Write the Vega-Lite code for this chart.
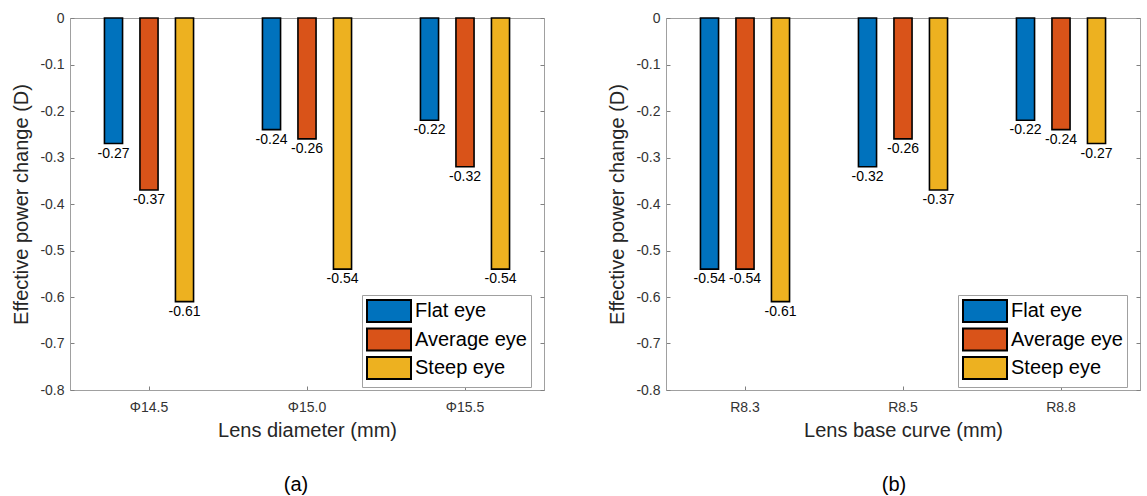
{
  "$schema": "https://vega.github.io/schema/vega-lite/v6.json",
  "padding": {"left": 11, "top": 10, "right": 5, "bottom": 5},
  "spacing": 122,
  "bounds": "flush",
  "resolve": {"scale": {"color": "independent"}, "legend": {"color": "independent"}},
  "config": {
    "font": "Liberation Sans",
    "view": {"stroke": "#a0a0a0", "strokeWidth": 1},
    "axis": {"labelFont": "Liberation Sans", "labelFontSize": 14, "labelColor": "#333333", "titleFont": "Liberation Sans", "titleFontSize": 20, "titleFontWeight": "normal", "titleColor": "#262626", "domainColor": "#a0a0a0", "tickColor": "#808080", "grid": false},
    "legend": {"orient": "none", "legendX": 292, "legendY": 277, "title": null, "symbolType": "M-1,-1H3V1H-1Z", "symbolSize": 484, "symbolStrokeColor": "black", "symbolStrokeWidth": 2, "symbolOpacity": 1, "labelFont": "Liberation Sans", "labelFontSize": 20, "labelColor": "black", "labelOffset": 25, "rowPadding": -1.5, "padding": 4, "strokeColor": "#a0a0a0", "fillColor": "white", "cornerRadius": 0, "labelLimit": 300},
    "locale": {"number": {"decimal": ".", "thousands": ",", "grouping": [3], "currency": ["$", ""], "minus": "-"}}
  },
  "hconcat": [
    {
      "width": 474, "height": 372,
      "title": {"text": "(a)", "orient": "bottom", "fontSize": 20, "fontWeight": "normal", "font": "Liberation Sans", "color": "black", "offset": 35, "dx": -11},
      "data": {"values": [
        {"group": "Φ14.5", "eye": "Flat eye", "value": -0.27},
        {"group": "Φ14.5", "eye": "Average eye", "value": -0.37},
        {"group": "Φ14.5", "eye": "Steep eye", "value": -0.61},
        {"group": "Φ15.0", "eye": "Flat eye", "value": -0.24},
        {"group": "Φ15.0", "eye": "Average eye", "value": -0.26},
        {"group": "Φ15.0", "eye": "Steep eye", "value": -0.54},
        {"group": "Φ15.5", "eye": "Flat eye", "value": -0.22},
        {"group": "Φ15.5", "eye": "Average eye", "value": -0.32},
        {"group": "Φ15.5", "eye": "Steep eye", "value": -0.54}
      ]},
      "encoding": {
        "x": {"field": "group", "type": "nominal", "sort": ["Φ14.5", "Φ15.0", "Φ15.5"], "scale": {"paddingInner": 0.326, "paddingOuter": 0.163}, "axis": {"title": "Lens diameter (mm)", "labelAngle": 0, "tickSize": -4, "labelPadding": 14, "titlePadding": 6, "domain": true}},
        "xOffset": {"field": "eye", "type": "nominal", "sort": ["Flat eye", "Average eye", "Steep eye"], "scale": {"paddingInner": 0.49, "paddingOuter": 0.245}}
      },
      "layer": [
        {
          "mark": {"type": "bar", "stroke": "black", "strokeWidth": 1.6},
          "encoding": {
            "y": {"field": "value", "type": "quantitative", "scale": {"domain": [-0.8, 0], "nice": false}, "axis": {"orient": "left", "title": "Effective power change (D)", "values": [0, -0.1, -0.2, -0.3, -0.4, -0.5, -0.6, -0.7, -0.8], "format": ".1~f", "tickSize": -4, "labelPadding": 10, "titlePadding": 8}},
            "color": {"field": "eye", "type": "nominal", "sort": ["Flat eye", "Average eye", "Steep eye"], "scale": {"domain": ["Flat eye", "Average eye", "Steep eye"], "range": ["#0072BD", "#D95319", "#EDB120"]}}
          }
        },
        {
          "mark": {"type": "text", "baseline": "top", "dy": 3, "fontSize": 14, "font": "Liberation Sans", "color": "black"},
          "encoding": {
            "y": {"field": "value", "type": "quantitative", "axis": {"orient": "right", "title": null, "labels": false, "values": [0, -0.1, -0.2, -0.3, -0.4, -0.5, -0.6, -0.7, -0.8], "tickSize": -4, "domain": false}},
            "text": {"field": "value", "type": "quantitative", "format": ".2f"}
          }
        }
      ],
      "resolve": {"axis": {"y": "independent"}}
    },
    {
      "width": 474, "height": 372,
      "title": {"text": "(b)", "orient": "bottom", "fontSize": 20, "fontWeight": "normal", "font": "Liberation Sans", "color": "black", "offset": 35, "dx": -9},
      "data": {"values": [
        {"group": "R8.3", "eye": "Flat eye", "value": -0.54},
        {"group": "R8.3", "eye": "Average eye", "value": -0.54},
        {"group": "R8.3", "eye": "Steep eye", "value": -0.61},
        {"group": "R8.5", "eye": "Flat eye", "value": -0.32},
        {"group": "R8.5", "eye": "Average eye", "value": -0.26},
        {"group": "R8.5", "eye": "Steep eye", "value": -0.37},
        {"group": "R8.8", "eye": "Flat eye", "value": -0.22},
        {"group": "R8.8", "eye": "Average eye", "value": -0.24},
        {"group": "R8.8", "eye": "Steep eye", "value": -0.27}
      ]},
      "encoding": {
        "x": {"field": "group", "type": "nominal", "sort": ["R8.3", "R8.5", "R8.8"], "scale": {"paddingInner": 0.326, "paddingOuter": 0.163}, "axis": {"title": "Lens base curve (mm)", "labelAngle": 0, "tickSize": -4, "labelPadding": 14, "titlePadding": 6, "domain": true}},
        "xOffset": {"field": "eye", "type": "nominal", "sort": ["Flat eye", "Average eye", "Steep eye"], "scale": {"paddingInner": 0.49, "paddingOuter": 0.245}}
      },
      "layer": [
        {
          "mark": {"type": "bar", "stroke": "black", "strokeWidth": 1.6},
          "encoding": {
            "y": {"field": "value", "type": "quantitative", "scale": {"domain": [-0.8, 0], "nice": false}, "axis": {"orient": "left", "title": "Effective power change (D)", "values": [0, -0.1, -0.2, -0.3, -0.4, -0.5, -0.6, -0.7, -0.8], "format": ".1~f", "tickSize": -4, "labelPadding": 10, "titlePadding": 8}},
            "color": {"field": "eye", "type": "nominal", "sort": ["Flat eye", "Average eye", "Steep eye"], "scale": {"domain": ["Flat eye", "Average eye", "Steep eye"], "range": ["#0072BD", "#D95319", "#EDB120"]}}
          }
        },
        {
          "mark": {"type": "text", "baseline": "top", "dy": 3, "fontSize": 14, "font": "Liberation Sans", "color": "black"},
          "encoding": {
            "y": {"field": "value", "type": "quantitative", "axis": {"orient": "right", "title": null, "labels": false, "values": [0, -0.1, -0.2, -0.3, -0.4, -0.5, -0.6, -0.7, -0.8], "tickSize": -4, "domain": false}},
            "text": {"field": "value", "type": "quantitative", "format": ".2f"}
          }
        }
      ],
      "resolve": {"axis": {"y": "independent"}}
    }
  ]
}
